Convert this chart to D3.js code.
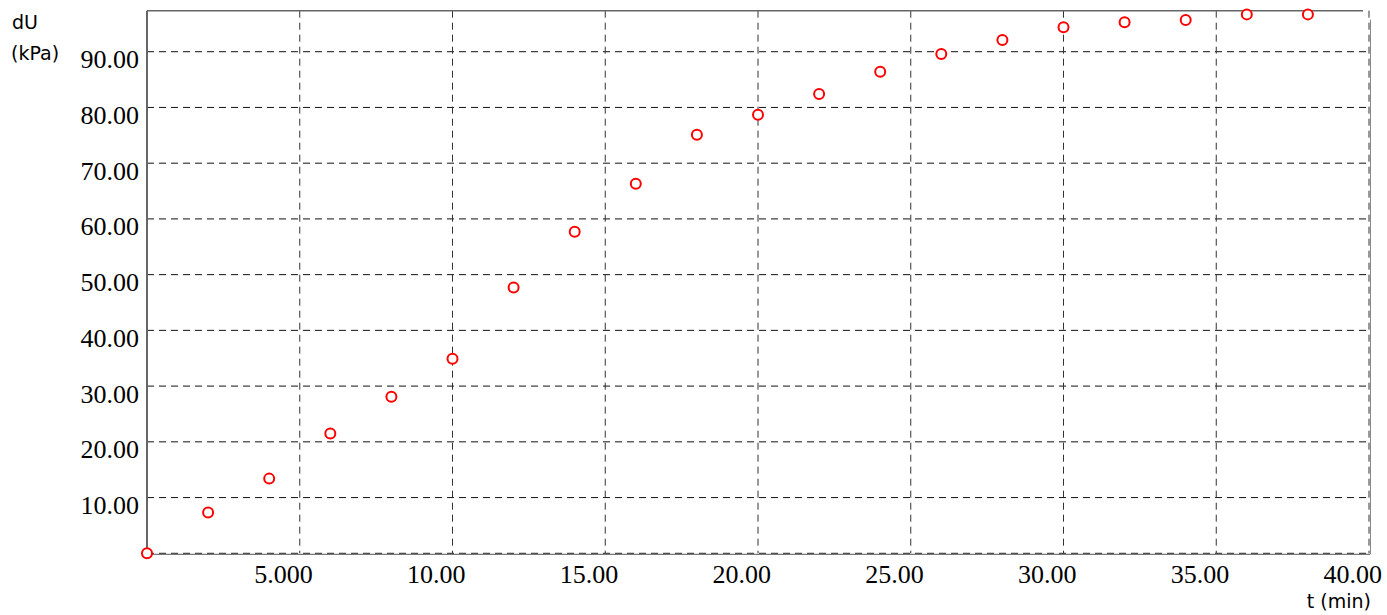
<!DOCTYPE html>
<html><head><meta charset="utf-8">
<script src="https://cdn.jsdelivr.net/npm/d3@7"></script>
<style>html,body{margin:0;padding:0;background:#fff;}svg{display:block;}</style>
</head><body>
<script>
const tValues = [0, 2, 4, 6, 8, 10, 12, 14, 16, 18, 20, 22, 24, 26, 28, 30, 32, 34, 36, 38];
const duValues = [0, 7.3, 13.4, 21.5, 28.1, 34.9, 47.7, 57.7, 66.3, 75.1, 78.7, 82.4, 86.4, 89.6, 92.1, 94.4, 95.3, 95.7, 96.7, 96.7];
const xTicks = [5, 10, 15, 20, 25, 30, 35, 40];
const xTickLabels = ["5.000", "10.00", "15.00", "20.00", "25.00", "30.00", "35.00", "40.00"];
const yTicks = [10, 20, 30, 40, 50, 60, 70, 80, 90];
const yTickLabels = ["10.00", "20.00", "30.00", "40.00", "50.00", "60.00", "70.00", "80.00", "90.00"];

const W = 1387, H = 615;
const L = 147, R = 1369, T = 10.7, B = 553.3;
const svg = d3.select("body").append("svg").attr("width", W).attr("height", H);
const x = d3.scaleLinear().domain([0, 40]).range([L, R]);
const y = d3.scaleLinear().domain([0, 97.36]).range([B, T]);

const grid = svg.append("g");
grid.selectAll("line.h").data([0].concat(yTicks)).enter().append("line")
  .attr("x1", L).attr("x2", R).attr("y1", d => y(d)).attr("y2", d => y(d))
  .attr("stroke", "#111").attr("stroke-width", 1).attr("stroke-dasharray", "7,5");
grid.selectAll("line.v").data(xTicks).enter().append("line")
  .attr("x1", d => x(d)).attr("x2", d => x(d)).attr("y1", T).attr("y2", B)
  .attr("stroke", "#333").attr("stroke-width", 1).attr("stroke-dasharray", "7,5");

svg.append("line").attr("x1", L).attr("x2", L).attr("y1", T).attr("y2", B + 1)
  .attr("stroke", "#666").attr("stroke-width", 2);
svg.append("line").attr("x1", L).attr("x2", R - 6).attr("y1", T).attr("y2", T)
  .attr("stroke", "#666").attr("stroke-width", 1.5);
svg.append("line").attr("x1", L).attr("x2", R + 1).attr("y1", B + 1).attr("y2", B + 1)
  .attr("stroke", "#777").attr("stroke-width", 1.2);
svg.append("line").attr("x1", R + 1.5).attr("x2", R + 1.5).attr("y1", T + 9).attr("y2", B + 1)
  .attr("stroke", "#888").attr("stroke-width", 1);

const serif = "'Liberation Serif','Times New Roman',serif";
svg.append("g").selectAll("text").data(yTicks).enter().append("text")
  .attr("x", L - 8).attr("y", d => y(d) + 16.5)
  .attr("text-anchor", "end").attr("font-family", serif).attr("font-size", 26).attr("fill", "#000")
  .text((d, i) => yTickLabels[i]);
svg.append("g").selectAll("text").data(xTicks).enter().append("text")
  .attr("x", d => x(d) + 13).attr("y", B + 30)
  .attr("text-anchor", "end").attr("font-family", serif).attr("font-size", 26).attr("fill", "#000")
  .text((d, i) => xTickLabels[i]);

const sans = "'DejaVu Sans',sans-serif";
svg.append("text").attr("x", 12).attr("y", 29).attr("font-family", sans).attr("font-size", 19).text("dU");
svg.append("text").attr("x", 11).attr("y", 60).attr("font-family", sans).attr("font-size", 19).text("(kPa)");
svg.append("text").attr("x", 1371).attr("y", 608).attr("text-anchor", "end").attr("font-family", sans).attr("font-size", 19).text("t (min)");

svg.append("g").selectAll("circle").data(tValues).enter().append("circle")
  .attr("cx", d => x(d)).attr("cy", (d, i) => y(duValues[i])).attr("r", 5)
  .attr("fill", "#fff").attr("stroke", "#f00").attr("stroke-width", 2);
</script>
</body></html>
